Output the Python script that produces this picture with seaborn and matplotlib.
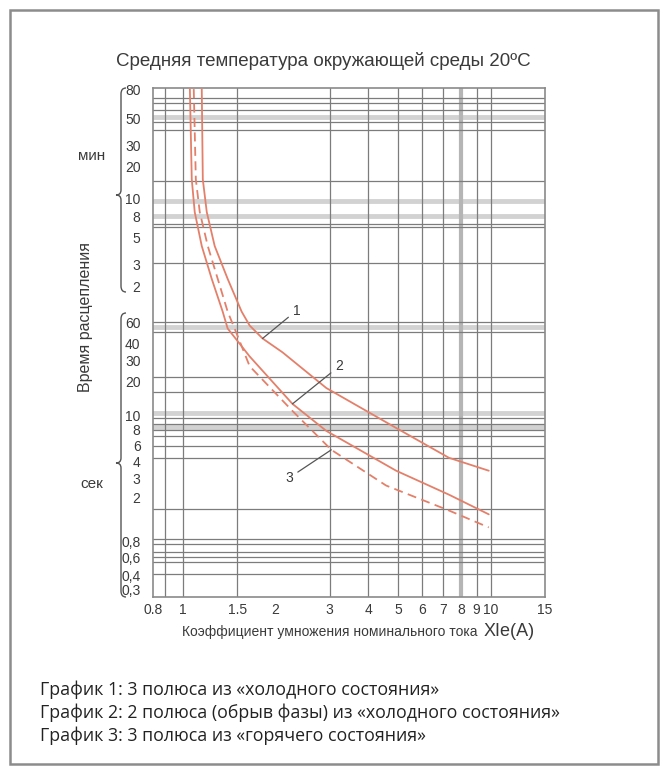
import pandas as pd
import matplotlib
matplotlib.use("Agg")
import matplotlib.pyplot as plt
from matplotlib.path import Path
from matplotlib.patches import PathPatch, Rectangle
from matplotlib.ticker import NullLocator
import seaborn as sns

# trip curves: multiple of rated current -> trip time (seconds)
c1_x = [1.152, 1.161, 1.196, 1.269, 1.398, 1.552, 1.648, 1.815, 2.107, 2.924, 4.928, 7.313, 9.85]
c1_y = [4800, 859, 460, 241, 129, 69.1, 53.0, 41.4, 31.8, 16.1, 7.52, 4.26, 3.33]
c2_x = [1.054, 1.069, 1.093, 1.152, 1.241, 1.347, 1.398, 1.648, 2.270, 2.924, 4.928, 7.313, 9.85]
c2_y = [4800, 859, 460, 241, 129, 69.1, 50.1, 29.4, 11.9, 7.11, 3.33, 2.11, 1.45]
c3_x = [1.085, 1.102, 1.135, 1.205, 1.298, 1.398, 1.495, 1.648, 2.270, 3.035, 4.573, 7.313, 9.85]
c3_y = [4800, 859, 460, 241, 129, 69.1, 45.5, 24.4, 10.4, 4.96, 2.51, 1.56, 1.13]

x_ticks = [0.8, 1, 1.5, 2, 3, 4, 5, 6, 7, 8, 9, 10, 15]
x_labels = ["0.8", "1", "1.5", "2", "3", "4", "5", "6", "7", "8", "9", "10", "15"]

# y labels of the scanned scale and where they sit on it (seconds)
min_labels = ["80", "50", "30", "20", "10", "8", "5", "3", "2"]
min_label_at = [4807, 2766, 1653, 1108, 591, 427, 281, 168, 112.5]
sec_labels = ["60", "40", "30", "20", "10", "8", "6", "4", "3", "2", "0,8", "0,6", "0,4", "0,3"]
sec_label_at = [56.6, 37.9, 27.4, 18.4, 9.62, 7.37, 5.43, 4.0, 2.89, 2.01, 0.872, 0.642, 0.456, 0.343]

# grid of the scanned nomogram (seconds / multiples)
h_lines = [4064, 3700, 3240, 2573, 2216, 828, 366, 346, 175, 57, 47, 20, 14.9,
           9.1, 8.1, 7.25, 6.5, 5.3, 4.26, 1.6, 0.9, 0.82, 0.71, 0.64, 0.58, 0.465]
h_bands = [2836, 566, 426, 52, 10, 7.7]
v_lines = [0.875, 1, 1.5, 3, 4, 5, 6, 7, 9, 10]
v_bands = [8]

notes = [("1", 2.34, 70.5, 1.815, 41.4), ("2", 3.22, 24.4, 2.27, 11.9), ("3", 2.22, 2.92, 3.035, 4.96)]

legend_lines = ["График 1: 3 полюса из «холодного состояния»",
                "График 2: 2 полюса (обрыв фазы) из «холодного состояния»",
                "График 3: 3 полюса из «горячего состояния»"]

RED = "#e4806a"
TXT = "#3a3a3a"

sns.set_style("white")
plt.rcParams["font.family"] = ["Liberation Sans", "DejaVu Sans"]

W, H = 668, 774
fig = plt.figure(figsize=(W / 100, H / 100), dpi=100)


def fx(px):
    return px / W


def fy(py):
    return 1 - py / H


ax = fig.add_axes([fx(153), fy(597), (545 - 153) / W, (597 - 88) / H])
ax.set_xscale("log")
ax.set_yscale("log")
ax.set_xlim(0.8, 15)
ax.set_ylim(0.3, 4900)

for v in h_bands:
    ax.axhline(v, color="#d2d2d2", lw=3.5, zorder=1)
for v in h_lines:
    ax.axhline(v, color="#7c7c7c", lw=0.9, zorder=2)
for v in v_bands:
    ax.axvline(v, color="#b5b5b5", lw=3, zorder=1)
for v in v_lines:
    ax.axvline(v, color="#7c7c7c", lw=0.9, zorder=2)

df = pd.concat([
    pd.DataFrame({"x": c1_x, "y": c1_y, "curve": "1"}),
    pd.DataFrame({"x": c2_x, "y": c2_y, "curve": "2"}),
    pd.DataFrame({"x": c3_x, "y": c3_y, "curve": "3"}),
])
for k, ls in [("1", "-"), ("2", "-"), ("3", (0, (5, 3)))]:
    sns.lineplot(data=df[df.curve == k], x="x", y="y", ax=ax, color=RED, lw=1.3,
                 linestyle=ls, sort=False, estimator=None, zorder=4)

for lab, tx, ty, px_, py_ in notes:
    ax.annotate(lab, xy=(px_, py_), xytext=(tx, ty), fontsize=10, color=TXT,
                ha="center", va="center", zorder=5,
                arrowprops=dict(arrowstyle="-", color="#555555", lw=0.9, shrinkA=1, shrinkB=0))

ax.set_xticks(x_ticks)
ax.set_xticklabels(x_labels)
ax.set_yticks(min_label_at + sec_label_at)
ax.set_yticklabels(min_labels + sec_labels)
ax.xaxis.set_minor_locator(NullLocator())
ax.yaxis.set_minor_locator(NullLocator())
ax.tick_params(length=0, labelsize=10, colors=TXT)
ax.tick_params(axis="y", pad=9)
ax.tick_params(axis="x", pad=4)
ax.set_xlabel("")
ax.set_ylabel("")
for s in ax.spines.values():
    s.set_color("#8a8a8a")
    s.set_linewidth(1.2)

# titles and axis captions
fig.text(fx(323), fy(61), "Средняя температура окружающей среды 20ºC", ha="center", va="center",
         fontsize=13.5, color=TXT)
fig.text(fx(477), fy(632), "Коэффициент умножения номинального тока", ha="right", va="center",
         fontsize=10, color=TXT)
fig.text(fx(484), fy(631), "XIe(A)", ha="left", va="center", fontsize=13, color=TXT)
fig.text(fx(86), fy(317), "Время расцепления", rotation=90, ha="center", va="center",
         fontsize=11.5, color=TXT)
fig.text(fx(92), fy(156), "мин", ha="center", va="center", fontsize=11, color=TXT)
fig.text(fx(92), fy(484), "сек", ha="center", va="center", fontsize=11, color=TXT)


def brace(top, bottom, mid, x=121):
    pts = [(x + 5, top), (x, top), (x, top + 6), (x, mid - 5), (x, mid), (x - 5, mid),
           (x, mid), (x, mid + 5), (x, bottom - 6), (x, bottom), (x + 5, bottom)]
    codes = [Path.MOVETO, Path.CURVE3, Path.CURVE3, Path.LINETO, Path.CURVE3, Path.CURVE3,
             Path.CURVE3, Path.CURVE3, Path.LINETO, Path.CURVE3, Path.CURVE3]
    verts = [(fx(a), fy(b)) for a, b in pts]
    fig.patches.append(PathPatch(Path(verts, codes), transform=fig.transFigure, fill=False,
                                 ec="#555555", lw=1.0))


brace(88, 292, 195)
brace(313, 597, 463)

for i, line in enumerate(legend_lines):
    fig.text(fx(40), fy(690 + 23 * i), line, ha="left", va="center", fontsize=12.8,
             color="#222222", family=["Open Sans", "DejaVu Sans"])

fig.patches.append(Rectangle((fx(10), fy(764)), 648 / W, 754 / H, transform=fig.transFigure,
                             fill=False, ec="#8c8c8c", lw=1.8))

fig.savefig("out.png", dpi=100, facecolor="white")
